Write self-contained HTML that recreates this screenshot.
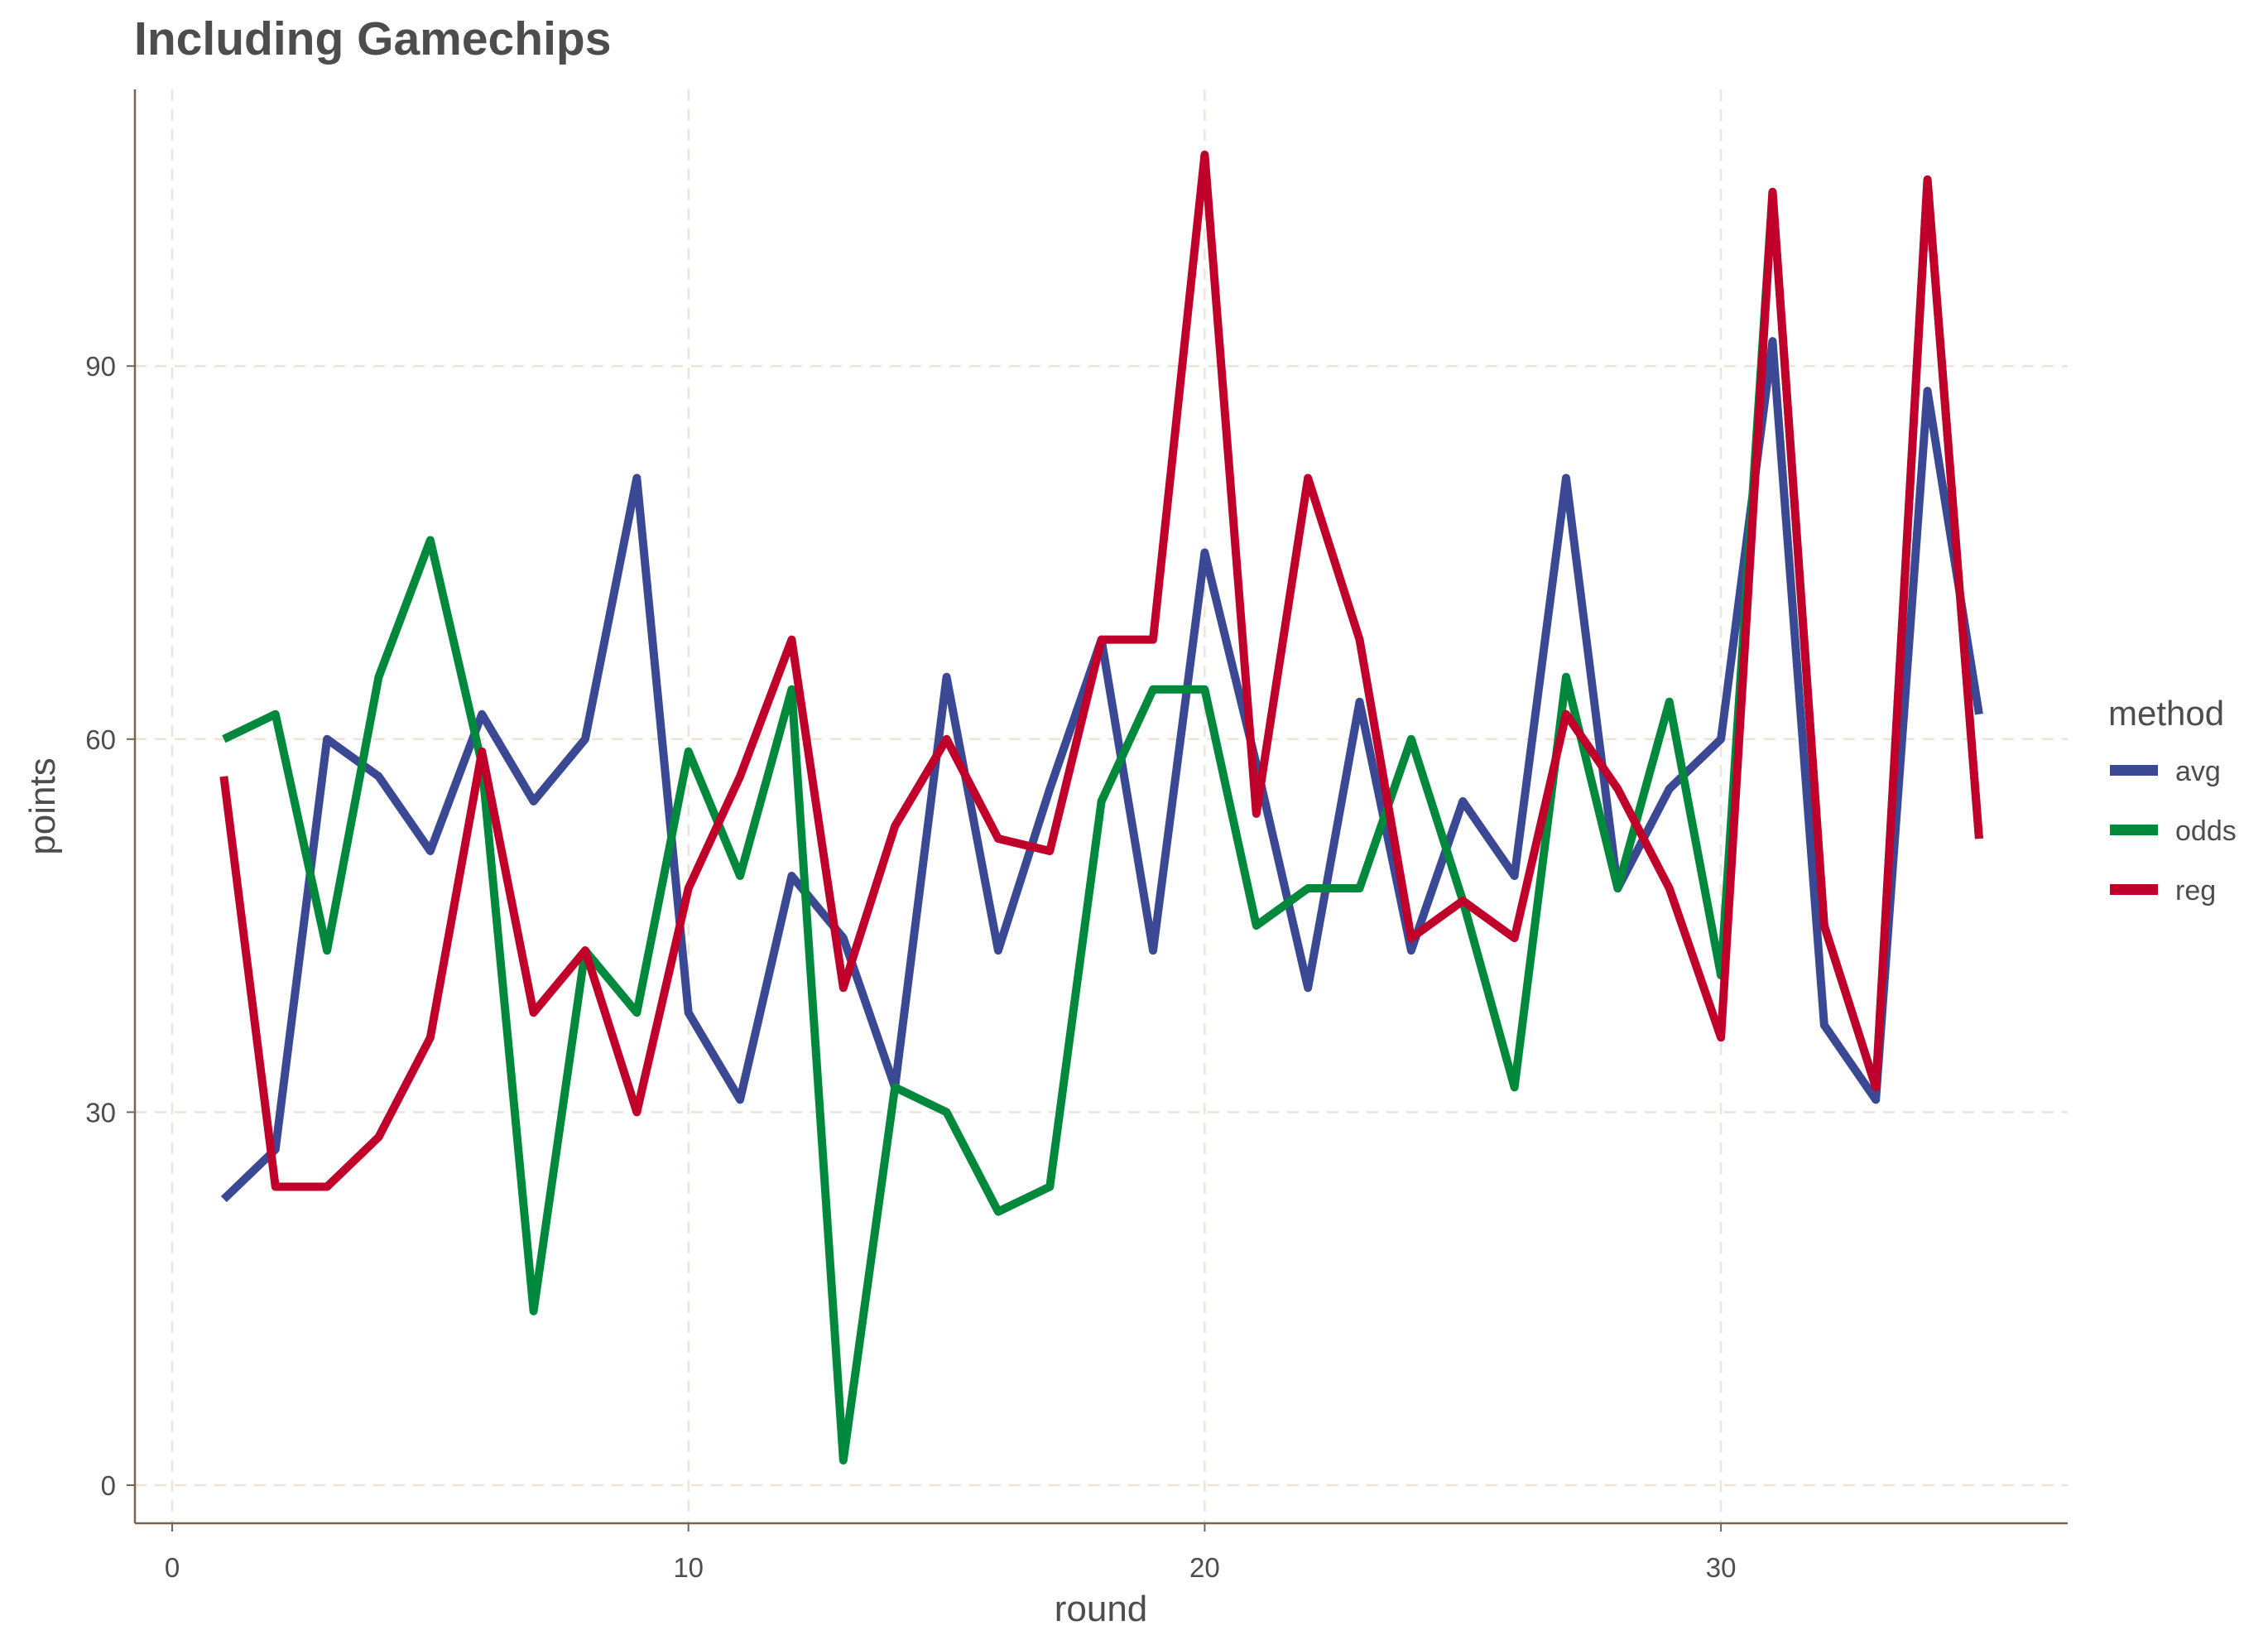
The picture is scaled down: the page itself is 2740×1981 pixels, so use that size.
<!DOCTYPE html>
<html><head><meta charset="utf-8"><style>
body{margin:0;background:#fff;}
svg{display:block;font-family:"Liberation Sans",Arial,sans-serif;}
</style></head><body>
<svg id="chart" width="2740" height="1981" viewBox="0 0 2740 1981">
<text x="162" y="66" font-size="57" font-weight="bold" fill="#4d4d4d">Including Gamechips</text>
<g id="grid"></g>
<g id="axes"></g>
<g id="series"></g>
<text x="1330" y="1958" font-size="44" fill="#4d4d4d" text-anchor="middle">round</text>
<text transform="translate(66,974) rotate(-90)" font-size="44" fill="#4d4d4d" text-anchor="middle">points</text>
<g>
<text x="2547" y="876" font-size="42" fill="#4d4d4d">method</text>
<rect x="2549" y="924" width="58" height="13" fill="#3b4994"/>
<text x="2628" y="943" font-size="34" fill="#4d4d4d">avg</text>
<rect x="2549" y="996" width="58" height="13" fill="#00893c"/>
<text x="2628" y="1015" font-size="34" fill="#4d4d4d">odds</text>
<rect x="2549" y="1068" width="58" height="13" fill="#c0002a"/>
<text x="2628" y="1087" font-size="34" fill="#4d4d4d">reg</text>
</g>
</svg>
<script>
const rounds=[1,2,3,4,5,6,7,8,9,10,11,12,13,14,15,16,17,18,19,20,21,22,23,24,25,26,27,28,29,30,31,32,33,34,35];
const avgValues=[23,27,60,57,51,62,55,60,81,38,31,49,44,32,65,43,56,68,43,75,58,40,63,43,55,49,81,48,56,60,92,37,31,88,62];
const oddsValues=[60,62,43,65,76,58,14,43,38,59,49,64,2,32,30,22,24,55,64,64,45,48,48,60,47,32,65,48,63,41,104,45,32,105,52];
const regValues=[57,24,24,28,36,59,38,43,30,48,57,68,40,53,60,52,51,68,68,107,54,81,68,44,47,44,62,56,48,36,104,45,32,105,52];
const xTicks=[0,10,20,30];
const yTicks=[0,30,60,90];
const NS="http://www.w3.org/2000/svg";
const L=163,R=2498,T=108,B=1840;
const xs=v=>208+v*62.37;
const ys=v=>1794-v*15.02;
function mk(tag,attrs,parent){const e=document.createElementNS(NS,tag);for(const k in attrs)e.setAttribute(k,attrs[k]);parent.appendChild(e);return e;}
const grid=document.getElementById('grid'),axes=document.getElementById('axes'),ser=document.getElementById('series');
xTicks.forEach(t=>{
 const g=mk('line',{x1:xs(t),x2:xs(t),y1:T,y2:B,stroke:'#ede4d6','stroke-width':2.5,'stroke-dasharray':'14,10'},grid);
 
 
 const tk=mk('line',{x1:xs(t),x2:xs(t),y1:B,y2:B+10,stroke:'#7a6450','stroke-width':2},axes);
 
 
 const lb=mk('text',{x:xs(t),y:1905,'font-size':33,fill:'#4d4d4d','text-anchor':'middle'},axes);
 lb.textContent=t;
 
 
});
yTicks.forEach(t=>{
 const g=mk('line',{x1:L,x2:R,y1:ys(t),y2:ys(t),stroke:'#ede4d6','stroke-width':2.5,'stroke-dasharray':'14,10'},grid);
 
 
 const tk=mk('line',{x1:L-10,x2:L,y1:ys(t),y2:ys(t),stroke:'#7a6450','stroke-width':2},axes);
 
 
 const lb=mk('text',{x:140,y:ys(t)+12,'font-size':33,fill:'#4d4d4d','text-anchor':'end'},axes);
 lb.textContent=t;
 
 
});
const xa=mk('line',{x1:L,x2:R,y1:B,y2:B,stroke:'#7a6450','stroke-width':2.5},axes);


const ya=mk('line',{x1:L,x2:L,y1:T,y2:B,stroke:'#7a6450','stroke-width':2.5},axes);


function line(vals,color,name){
 const p=mk('polyline',{points:vals.map((v,i)=>xs(rounds[i])+','+ys(v)).join(' '),fill:'none',stroke:color,'stroke-width':10,'stroke-linejoin':'round'},ser);
 
 
}
line(avgValues,'#3b4994','series-avg');
line(oddsValues,'#00893c','series-odds');
line(regValues,'#c0002a','series-reg');
</script>
</body></html>
